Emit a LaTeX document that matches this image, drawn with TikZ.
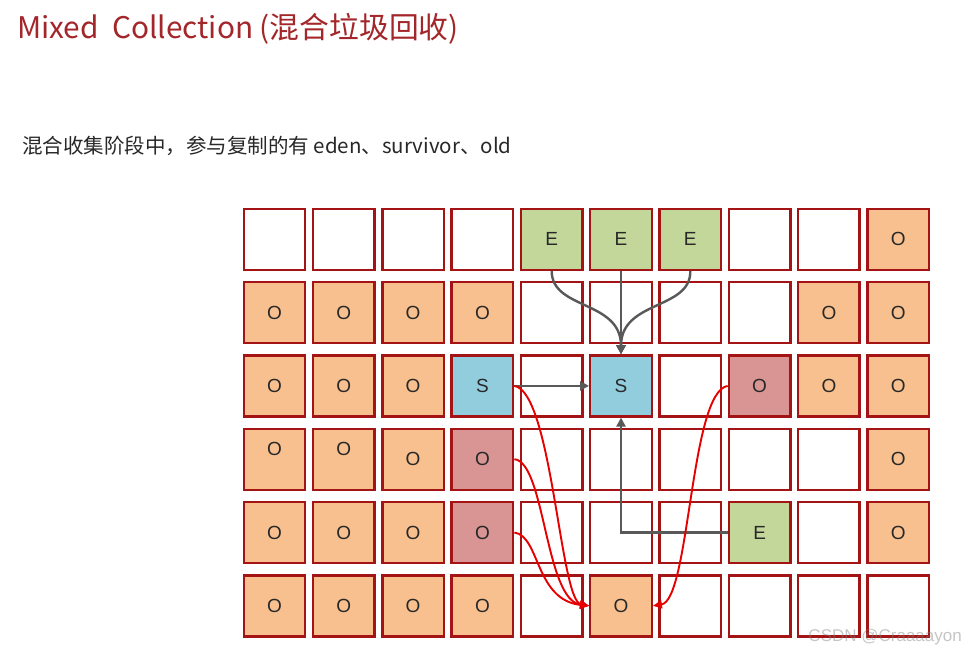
\documentclass[tikz,border=0pt]{standalone}
\usepackage{fontspec}
\setmainfont{Noto Sans CJK SC}
\newfontfamily\cellfont{Liberation Sans}
\usetikzlibrary{arrows.meta}
\definecolor{cellred}{RGB}{165,20,20}
\definecolor{oldfill}{RGB}{248,192,143}
\definecolor{edenfill}{RGB}{196,215,155}
\definecolor{survfill}{RGB}{146,205,221}
\definecolor{hotfill}{RGB}{217,148,148}
\definecolor{arrowgray}{RGB}{89,89,89}
\definecolor{arrowred}{RGB}{230,0,0}
\definecolor{titlered}{RGB}{163,38,42}
\definecolor{textgray}{RGB}{40,40,40}

\begin{document}
\begin{tikzpicture}[x=1pt,y=-1pt,
  cell/.style={draw=cellred,line width=2.4pt,minimum width=61.5pt,minimum height=61pt,
    inner sep=0pt,text=textgray,font=\cellfont\fontsize{19}{19}\selectfont},
  free/.style={cell,fill=white},
  old/.style={cell,fill=oldfill},
  oldup/.style={old,text depth=20pt},
  eden/.style={cell,fill=edenfill},
  surv/.style={cell,fill=survfill},
  hot/.style={cell,fill=hotfill},
  move/.style={draw=arrowgray,line width=2.4pt,-{Triangle[length=9pt,width=9pt]}},
  copy/.style={draw=arrowred,line width=1.9pt,-{Triangle[length=9pt,width=8pt]}}]
\useasboundingbox[fill=white] (0,0) rectangle (965,652);
\node[anchor=base west,inner sep=0pt,text=titlered,font=\fontsize{29.8}{30}\selectfont]
  (title) at (17,39) {Mixed\ \ Collection (混合垃圾回收)};
\node[anchor=base west,inner sep=0pt,text=textgray,font=\fontsize{20.5}{21}\selectfont]
  (intro) at (22,154) {混合收集阶段中，参与复制的有 eden、survivor、old};
% regions, row by row
\foreach \row [count=\r] in {
  {free/,free/,free/,free/,eden/E,eden/E,eden/E,free/,free/,old/O},
  {old/O,old/O,old/O,old/O,free/,free/,free/,free/,old/O,old/O},
  {old/O,old/O,old/O,surv/S,free/,surv/S,free/,hot/O,old/O,old/O},
  {oldup/O,oldup/O,old/O,hot/O,free/,free/,free/,free/,free/,old/O},
  {old/O,old/O,old/O,hot/O,free/,free/,free/,eden/E,free/,old/O},
  {old/O,old/O,old/O,old/O,free/,old/O,free/,free/,free/,free/}}
  \foreach \k/\t [count=\c] in \row
    \node[\k] (c-\r-\c) at ({274.5+(\c-1)*69.3},{239.3+(\r-1)*73.3}) {\t};
% eden and survivor into the new survivor
\draw[move] (c-1-5.south) .. controls (551.6,310) and (621,300) .. (c-3-6.north);
\draw[move] (c-1-6.south) -- (c-3-6.north);
\draw[move] (c-1-7.south) .. controls (690.9,310) and (621,300) .. (c-3-6.north);
\draw[move] (c-3-4.east) -- (c-3-6.west);
\draw[move] (c-5-8.west) -| (c-3-6.south);
% survivor and old into the new old region
\draw[copy] (c-3-4.east) .. controls (552,392) and (560,600) .. (c-6-6.west);
\draw[copy] (c-4-4.east) .. controls (545,462) and (545,600) .. (c-6-6.west);
\draw[copy] (c-5-4.east) .. controls (540,536) and (535,600) .. (c-6-6.west);
\draw[copy] (c-3-8.west) .. controls (690,392) and (690,600) .. (c-6-6.east);
\node[anchor=base east,inner sep=0pt,text=gray,opacity=0.45,font=\cellfont\fontsize{17}{17}\selectfont]
  (mark) at (962,641) {CSDN @Craaaayon};
\end{tikzpicture}
\end{document}
